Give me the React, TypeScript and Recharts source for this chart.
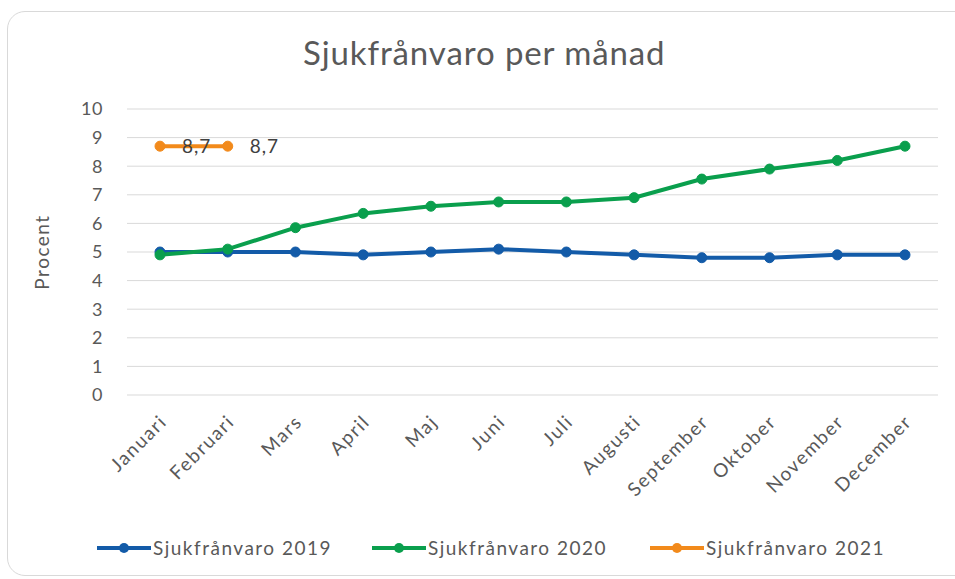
import React from 'react';
import {
  LineChart,
  Line,
  XAxis,
  YAxis,
  CartesianGrid,
  Legend,
  LabelList,
} from 'recharts';

const months = [
  'Januari', 'Februari', 'Mars', 'April', 'Maj', 'Juni',
  'Juli', 'Augusti', 'September', 'Oktober', 'November', 'December',
];
const values2019 = [5.0, 5.0, 5.0, 4.9, 5.0, 5.1, 5.0, 4.9, 4.8, 4.8, 4.9, 4.9];
const values2020 = [4.9, 5.1, 5.85, 6.35, 6.6, 6.75, 6.75, 6.9, 7.55, 7.9, 8.2, 8.7];
const values2021 = [8.7, 8.7];
const yTicks = [0, 1, 2, 3, 4, 5, 6, 7, 8, 9, 10];

const seriesNames = ['Sjukfrånvaro 2019', 'Sjukfrånvaro 2020', 'Sjukfrånvaro 2021'];
const COLORS = ['#135BA8', '#0A9F4D', '#F28A1B'];

const FONT = 'Lato, "Open Sans", sans-serif';
const TEXT = '#595959';

const data = months.map((m, i) => ({
  name: m,
  s2019: values2019[i],
  s2020: values2020[i],
  s2021: i < values2021.length ? values2021[i] : null,
}));

const MonthTick = (props: any) => {
  const { x, y, payload } = props;
  const tx = x + 8;
  const ty = y + 20;
  return (
    <text
      x={tx}
      y={ty}
      transform={`rotate(-45, ${tx}, ${ty})`}
      textAnchor="end"
      fontSize={19}
      letterSpacing={1.6}
      fill={TEXT}
      fontFamily={FONT}
    >
      {payload.value}
    </text>
  );
};

const LegendContent = () => (
  <div style={{ position: 'relative', height: 24, fontFamily: FONT }}>
    {seriesNames.map((name, i) => (
      <div
        key={name}
        style={{
          position: 'absolute',
          left: [97, 372, 650][i],
          top: 0,
          display: 'flex',
          alignItems: 'center',
          whiteSpace: 'nowrap',
        }}
      >
        <svg width={55} height={16}>
          <line x1={0} y1={8} x2={54} y2={8} stroke={COLORS[i]} strokeWidth={4} />
          <circle cx={27} cy={8} r={5} fill={COLORS[i]} />
        </svg>
        <span style={{ fontSize: 19, letterSpacing: 1.5, color: TEXT, marginLeft: 1 }}>{name}</span>
      </div>
    ))}
  </div>
);

const fmt = (v: any) => (v == null ? '' : String(v).replace('.', ','));

export default function App() {
  return (
    <div style={{ position: 'absolute', left: 0, top: 0, width: 955, height: 579, background: '#fff', overflow: 'hidden' }}>
      <div
        style={{
          position: 'absolute',
          left: 7,
          top: 11,
          width: 970,
          height: 565,
          border: '1.5px solid #d9d9d9',
          borderRadius: 18,
          boxSizing: 'border-box',
        }}
      />
      <div
        style={{
          position: 'absolute',
          left: 303,
          top: 32,
          whiteSpace: 'nowrap',
          fontFamily: FONT,
          fontSize: 33,
          letterSpacing: 0.9,
          color: TEXT,
        }}
      >
        Sjukfrånvaro per månad
      </div>
      <div style={{ position: 'absolute', left: 0, top: 0 }}>
        <LineChart
          width={955}
          height={579}
          data={data}
          margin={{ top: 109, right: 17, left: 0, bottom: 84 }}
        >
          <CartesianGrid vertical={false} stroke="#d9d9d9" strokeWidth={1} />
          <XAxis
            dataKey="name"
            axisLine={false}
            tickLine={false}
            interval={0}
            height={100}
            padding={{ left: 33, right: 33 }}
            tick={<MonthTick />}
          />
          <YAxis
            domain={[0, 10]}
            ticks={yTicks}
            axisLine={false}
            tickLine={false}
            width={127}
            tickMargin={18}
            tick={{ fontSize: 18, letterSpacing: 0.5, fill: TEXT, fontFamily: FONT }}
            label={{
              value: 'Procent',
              angle: -90,
              position: 'insideLeft',
              offset: 42,
              style: { fontSize: 19, letterSpacing: 1.5, fill: TEXT, fontFamily: FONT, textAnchor: 'middle' },
            }}
          />
          <Legend
            verticalAlign="middle"
            align="center"
            layout="horizontal"
            wrapperStyle={{ top: 536, left: 0, width: 955 }}
            content={<LegendContent />}
          />
          <Line
            type="linear"
            dataKey="s2019"
            name={seriesNames[0]}
            stroke={COLORS[0]}
            strokeWidth={4}
            dot={{ r: 5, fill: COLORS[0], stroke: COLORS[0], strokeWidth: 1 }}
            isAnimationActive={false}
          />
          <Line
            type="linear"
            dataKey="s2020"
            name={seriesNames[1]}
            stroke={COLORS[1]}
            strokeWidth={4}
            dot={{ r: 5, fill: COLORS[1], stroke: COLORS[1], strokeWidth: 1 }}
            isAnimationActive={false}
          />
          <Line
            type="linear"
            dataKey="s2021"
            name={seriesNames[2]}
            stroke={COLORS[2]}
            strokeWidth={4}
            dot={{ r: 5, fill: COLORS[2], stroke: COLORS[2], strokeWidth: 1 }}
            isAnimationActive={false}
          >
            <LabelList
              dataKey="s2021"
              position="right"
              offset={22}
              formatter={fmt}
              style={{ fontSize: 19, letterSpacing: 1, fill: '#404040', fontFamily: FONT }}
            />
          </Line>
        </LineChart>
      </div>
    </div>
  );
}
